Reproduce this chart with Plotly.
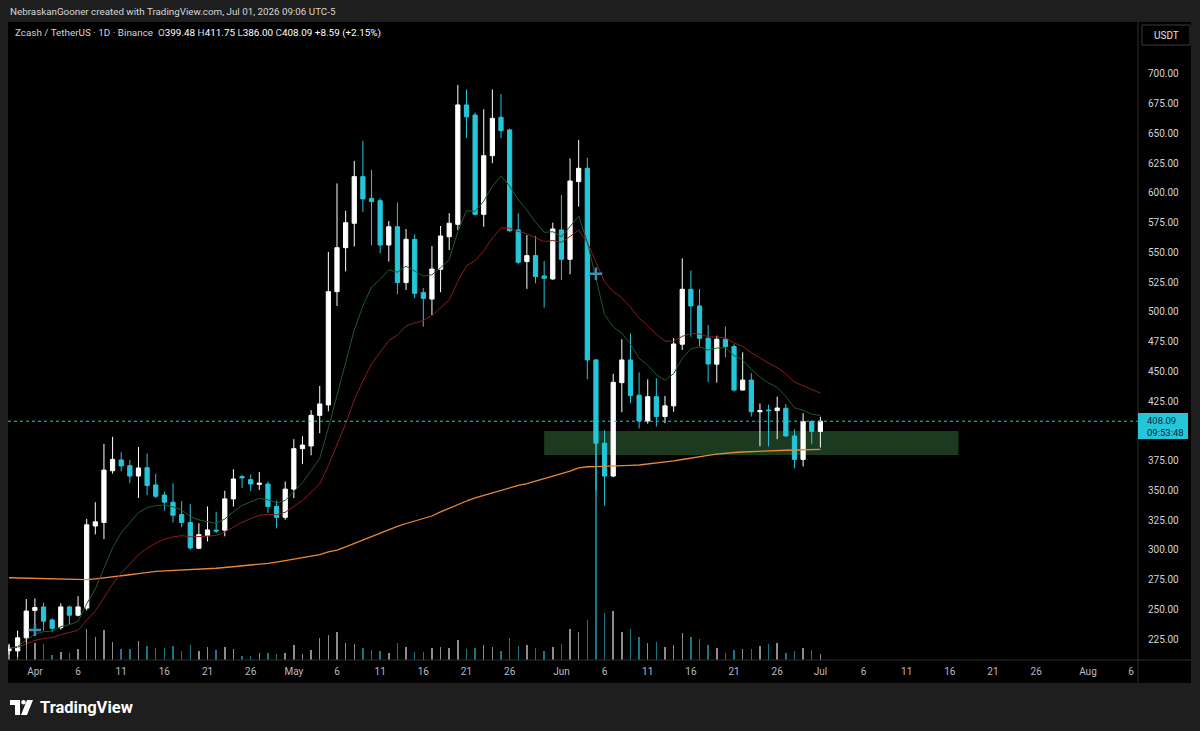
import plotly.graph_objects as go
import pandas as pd

# ---------------- data ----------------
start_date = "2026-03-29"
end_date = "2026-07-01"

opens = [215.2, 215, 226, 249, 252, 241, 234.5, 252, 245, 251,
         320, 323, 366.5, 375.5, 370.7, 362, 369, 354.5, 346, 340,
         329.6, 323, 301.3, 312, 316.5, 316.5, 342.8, 361.5, 359, 355,
         355.3, 336.4, 327.3, 351, 385, 387.3, 413, 421.8, 517, 554,
         574.5, 613.7, 595.5, 593.5, 556.2, 571.6, 524.6, 561, 516.2, 510.8,
         535.8, 563.2, 573.6, 674, 665.5, 582, 631.3, 663.6, 653, 568.9,
         542.3, 547.3, 530.2, 527.7, 568.9, 544.2, 609.5, 620.7, 459.6, 389.6,
         362, 440.5, 459.6, 430, 408.3, 428.7, 412, 421, 472.8, 519,
         505, 477.8, 456, 477, 470.8, 434.3, 442.7, 416, 417.5, 417,
         419, 395.7, 376, 407.8, 399.48]
highs = [221, 232, 258.6, 259, 255.6, 242.5, 255, 253, 261, 326,
         340, 389, 395, 382, 375.5, 386.4, 381, 364, 349, 356,
         341, 338.5, 322.4, 336.4, 332, 349.6, 367.7, 363, 363.3, 365.4,
         357.4, 341.4, 357.4, 393, 395.4, 417.4, 437.7, 550.4, 608, 585,
         627, 643.7, 619.3, 595.5, 576.4, 592, 569.7, 565.2, 520, 555.4,
         572.2, 583, 690.8, 687, 667.5, 670.3, 687, 683.2, 654, 583,
         564.6, 563.8, 542.8, 575, 598.3, 629, 644.5, 629.7, 460.5, 400.4,
         448, 477, 482, 449.2, 443.3, 444.2, 429.3, 478, 545, 534.7,
         519.3, 489, 480, 487.6, 472.8, 466, 448.4, 423, 422, 428.8,
         422.6, 401.3, 414.8, 409, 411.75]
lows = [212, 210, 222, 230, 232, 231, 233, 237, 244, 249,
        313, 309, 364, 366, 356, 343.5, 346, 343.5, 333, 323,
        319, 300, 300.5, 307, 314, 311.3, 336.4, 352, 349.4, 350.3,
        331, 318, 325.3, 343.4, 372, 379.4, 398, 416.4, 505, 534,
        555, 584, 556, 549.3, 542.3, 514.8, 518.4, 511.4, 487.6, 497.4,
        516.5, 552, 569, 646, 581, 571.6, 625, 646, 567.4, 540.3,
        519.3, 524, 503.6, 527, 526.8, 531.6, 588.5, 443.3, 350, 337,
        361, 415.6, 423.2, 402, 406, 403.6, 406.4, 416, 468, 479,
        470.8, 441, 440.5, 461.8, 433, 433.8, 412, 387, 387, 393,
        395, 368.5, 370, 388.7, 386]
closes = [217.2, 226, 248.5, 251.5, 240, 234, 252, 245, 252, 321,
          323.5, 367, 376, 370.5, 362, 368.8, 354, 345, 340, 329,
          323, 301.5, 312.7, 316.7, 315.8, 342.8, 359.5, 360.5, 355.3, 356,
          336.4, 327.3, 351, 385, 388, 413, 422.6, 517, 554, 575,
          613.7, 595, 592.7, 556.2, 571.6, 524.6, 561, 515.6, 511.4, 536,
          563.8, 574.5, 674, 664, 582, 631.3, 662.7, 652.3, 568.3, 541.7,
          547.3, 529.7, 528.3, 569.7, 544.2, 610, 620.7, 459.6, 389.6, 362,
          440.8, 459.6, 429.6, 408.3, 428.7, 412, 421, 473, 519, 505,
          477.8, 456.2, 477, 470.8, 434.3, 442.7, 416, 417, 417, 419.2,
          395.7, 376, 407.8, 399.50, 408.09]
volumes_k = [150, 290, 280, 170, 160, 50, 80, 70, 110, 310,
             230, 300, 180, 110, 110, 190, 140, 120, 120, 140,
             90, 150, 90, 130, 100, 130, 110, 40, 45, 70,
             70, 60, 75, 150, 60, 100, 220, 250, 280, 170,
             160, 120, 100, 90, 70, 170, 135, 80, 80, 120,
             135, 120, 200, 110, 120, 150, 135, 90, 220, 140,
             150, 120, 90, 130, 160, 310, 280, 400, 2170, 470,
             490, 280, 310, 230, 170, 180, 130, 150, 270, 230,
             210, 150, 120, 70, 100, 110, 110, 140, 160, 170,
             70, 90, 120, 100, 60]
# long moving average (orange)
long_ma = [276.5, 276.3, 276.0, 275.7, 275.4, 275.2, 274.9, 274.8, 274.6, 274.9,
           275.6, 276.3, 277.1, 278.0, 279.0, 280.0, 281.1, 281.8, 282.2, 282.5,
           283.0, 283.4, 283.7, 284.0, 284.5, 285.1, 285.7, 286.4, 287.1, 287.9,
           288.6, 289.7, 290.9, 292.0, 293.1, 294.2, 296.0, 298.2, 299.8, 302.4,
           305.3, 308.2, 311.2, 314.1, 316.6, 319.6, 322.1, 324.2, 326.3, 328.4,
           331.8, 335.1, 338.1, 341.0, 343.6, 345.7, 347.8, 349.9, 352.4, 354.1,
           355.7, 357.8, 359.9, 362.0, 363.7, 366.2, 368.8, 369.8, 369.9, 370.0,
           370.1, 370.4, 370.9, 371.3, 372.1, 373.0, 373.5, 374.7, 375.9, 377.2,
           378.4, 379.3, 380.4, 381.4, 381.8, 382.2, 382.6, 383.1, 383.2, 383.5,
           383.7, 383.9, 384.1, 384.2, 384.4]
fast_period = 10
slow_period = 20

zone_start, zone_end = "2026-05-30", "2026-07-17"
zone_low, zone_high = 379.7, 399.9
event_dates = ["2026-04-01", "2026-06-05"]
event_prices = [232.6, 532.0]

# 400.00 is hidden behind the last-price label in the reference
price_ticks = [225, 250, 275, 300, 325, 350, 375, 425, 450, 475, 500,
               525, 550, 575, 600, 625, 650, 675, 700]
tick_dates = ["2026-04-01", "2026-04-06", "2026-04-11", "2026-04-16", "2026-04-21", "2026-04-26",
              "2026-05-01", "2026-05-06", "2026-05-11", "2026-05-16", "2026-05-21", "2026-05-26",
              "2026-06-01", "2026-06-06", "2026-06-11", "2026-06-16", "2026-06-21", "2026-06-26",
              "2026-07-01", "2026-07-06", "2026-07-11", "2026-07-16", "2026-07-21", "2026-07-26",
              "2026-08-01", "2026-08-06"]
tick_text = ["Apr", "6", "11", "16", "21", "26", "May", "6", "11", "16", "21", "26",
             "Jun", "6", "11", "16", "21", "26", "Jul", "6", "11", "16", "21", "26", "Aug", "6"]
countdown = "09:53:48"

# ---------------- styling ----------------
UP = "#ffffff"
DOWN = "#26c6da"
BG = "#1e1e1e"
FONT = "Roboto, 'Noto Sans', sans-serif"

dates = pd.date_range(start_date, end_date, freq="D")
cl = pd.Series(closes)
ema_fast = cl.ewm(span=fast_period, adjust=False).mean()
ema_slow = cl.ewm(span=slow_period, adjust=False).mean()

W, H = 1200, 731
ML, MR, MT, MB = 8, 62, 22, 71
PW, PH = W - ML - MR, H - MT - MB


def px(x):
    return (x - ML) / PW


def py(y):
    return (H - MB - y) / PH


fig = go.Figure()

# volume
vol_colors = ["rgba(255,255,255,0.55)" if c >= o else "rgba(38,198,218,0.6)"
              for o, c in zip(opens, closes)]
fig.add_trace(go.Bar(x=dates, y=volumes_k, marker=dict(color=vol_colors, line=dict(width=0)),
                     width=0.17 * 86400000, yaxis="y2", hoverinfo="skip", showlegend=False))

# candles
fig.add_trace(go.Candlestick(
    x=dates, open=opens, high=highs, low=lows, close=closes,
    increasing=dict(line=dict(color=UP, width=1), fillcolor=UP),
    decreasing=dict(line=dict(color=DOWN, width=1), fillcolor=DOWN),
    whiskerwidth=0, showlegend=False))

# moving averages
fig.add_trace(go.Scatter(x=dates, y=long_ma, mode="lines",
                         line=dict(color="#e8883a", width=1.3), showlegend=False))
fig.add_trace(go.Scatter(x=dates, y=ema_slow, mode="lines",
                         line=dict(color="#8e1c1c", width=1), showlegend=False))
fig.add_trace(go.Scatter(x=dates, y=ema_fast, mode="lines",
                         line=dict(color="#1f5a2a", width=1), showlegend=False))

# event markers
fig.add_trace(go.Scatter(x=pd.to_datetime(event_dates), y=event_prices, mode="markers",
                         marker=dict(symbol="cross-thin", size=9, line=dict(color="#3f8fb3", width=2.5)),
                         showlegend=False))

x0 = dates[0] - pd.Timedelta(days=0.116)
x1 = dates[0] + pd.Timedelta(days=130.8)

shapes = []
# black chart canvas (incl. axes)
shapes.append(dict(type="rect", xref="paper", yref="paper", x0=px(8), x1=px(1191),
                   y0=py(683), y1=py(22), fillcolor="#000000", line=dict(width=0), layer="below"))
# zone
shapes.append(dict(type="rect", xref="x", yref="y", x0=zone_start, x1=zone_end,
                   y0=zone_low, y1=zone_high, fillcolor="#1c3a20", line=dict(width=0), layer="below"))
# price line
shapes.append(dict(type="line", xref="paper", yref="y", x0=0, x1=1, y0=closes[-1], y1=closes[-1],
                   line=dict(color="#26c6da", width=1, dash="dot")))
# separators
shapes.append(dict(type="line", xref="paper", yref="paper", x0=1, x1=1, y0=py(683), y1=py(22),
                   line=dict(color="#2e2e2e", width=1)))
shapes.append(dict(type="line", xref="paper", yref="paper", x0=px(8), x1=px(1191), y0=0, y1=0,
                   line=dict(color="#2e2e2e", width=1)))
# price label box
shapes.append(dict(type="rect", xref="paper", yref="paper", x0=px(1138), x1=px(1188),
                   y0=py(439), y1=py(413), fillcolor="#26c6da", line=dict(width=0)))
# USDT button
shapes.append(dict(type="rect", xref="paper", yref="paper", x0=px(1142), x1=px(1190),
                   y0=py(45), y1=py(25), fillcolor="#000000", line=dict(color="#3a3a3a", width=1)))
# TradingView logo
shapes.append(dict(type="path", xref="paper", yref="paper",
                   path=f"M {px(10)},{py(700)} L {px(20)},{py(700)} L {px(20)},{py(715)} L {px(15)},{py(715)} "
                        f"L {px(15)},{py(705)} L {px(10)},{py(705)} Z",
                   fillcolor="#ffffff", line=dict(width=0)))
shapes.append(dict(type="circle", xref="paper", yref="paper", x0=px(21.2), x1=px(25.8),
                   y0=py(704.6), y1=py(700), fillcolor="#ffffff", line=dict(width=0)))
shapes.append(dict(type="path", xref="paper", yref="paper",
                   path=f"M {px(27)},{py(700)} L {px(33)},{py(700)} L {px(27)},{py(715)} L {px(21)},{py(715)} Z",
                   fillcolor="#ffffff", line=dict(width=0)))

annotations = [
    dict(xref="paper", yref="paper", x=px(8), y=py(11), xanchor="left", yanchor="middle",
         text="NebraskanGooner created with TradingView.com, Jul 01, 2026 09:06 UTC-5",
         showarrow=False, font=dict(family=FONT, size=9.8, color="#d6d6d6")),
    dict(xref="paper", yref="paper", x=px(13), y=py(33), xanchor="left", yanchor="middle",
         text=(f"Zcash / TetherUS · 1D · Binance  O<span style='color:#ffffff'>{opens[-1]:.2f}</span>"
               f" H<span style='color:#ffffff'>{highs[-1]:.2f}</span>"
               f" L<span style='color:#ffffff'>{lows[-1]:.2f}</span>"
               f" C<span style='color:#ffffff'>{closes[-1]:.2f}</span>"
               f" <span style='color:#ffffff'>{closes[-1]-closes[-2]:+.2f} "
               f"({(closes[-1]-closes[-2])/closes[-2]*100:+.2f}%)</span>"),
         showarrow=False, font=dict(family=FONT, size=9.9, color="#d1d4dc")),
    dict(xref="paper", yref="paper", x=px(1166), y=py(35), xanchor="center", yanchor="middle",
         text="USDT", showarrow=False, font=dict(family=FONT, size=10, color="#e0e0e0")),
    dict(xref="paper", yref="paper", x=px(1146), y=py(426), xanchor="left", yanchor="middle",
         text=f"{closes[-1]:.2f}<br>{countdown}", align="left", borderpad=0,
         showarrow=False, font=dict(family=FONT, size=9.5, color="#0b2a33")),
    dict(xref="paper", yref="paper", x=px(38), y=py(707), xanchor="left", yanchor="middle",
         text="<b>TradingView</b>", showarrow=False, font=dict(family=FONT, size=16.5, color="#ffffff")),
]

fig.update_layout(
    width=W, height=H, margin=dict(l=ML, r=MR, t=MT, b=MB, pad=0),
    paper_bgcolor=BG, plot_bgcolor="#000000",
    showlegend=False, hovermode=False,
    shapes=shapes, annotations=annotations,
    bargap=0,
    xaxis=dict(type="date", range=[x0, x1], rangeslider=dict(visible=False),
               showgrid=False, zeroline=False, showline=False,
               tickvals=pd.to_datetime(tick_dates), ticktext=tick_text, ticks="",
               tickfont=dict(family=FONT, size=10, color="#b8bbc2"), ticklabelstandoff=4),
    yaxis=dict(side="right", range=[207.35, 743.7], showgrid=False, zeroline=False, showline=False,
               tickvals=price_ticks, ticktext=[f"{v:.2f}" for v in price_ticks], ticks="",
               tickfont=dict(family=FONT, size=10, color="#d1d4dc"), ticklabelstandoff=9),
    yaxis2=dict(overlaying="y", range=[0, PH * 10], visible=False, showgrid=False, zeroline=False),
)

fig.write_html("out.html")
